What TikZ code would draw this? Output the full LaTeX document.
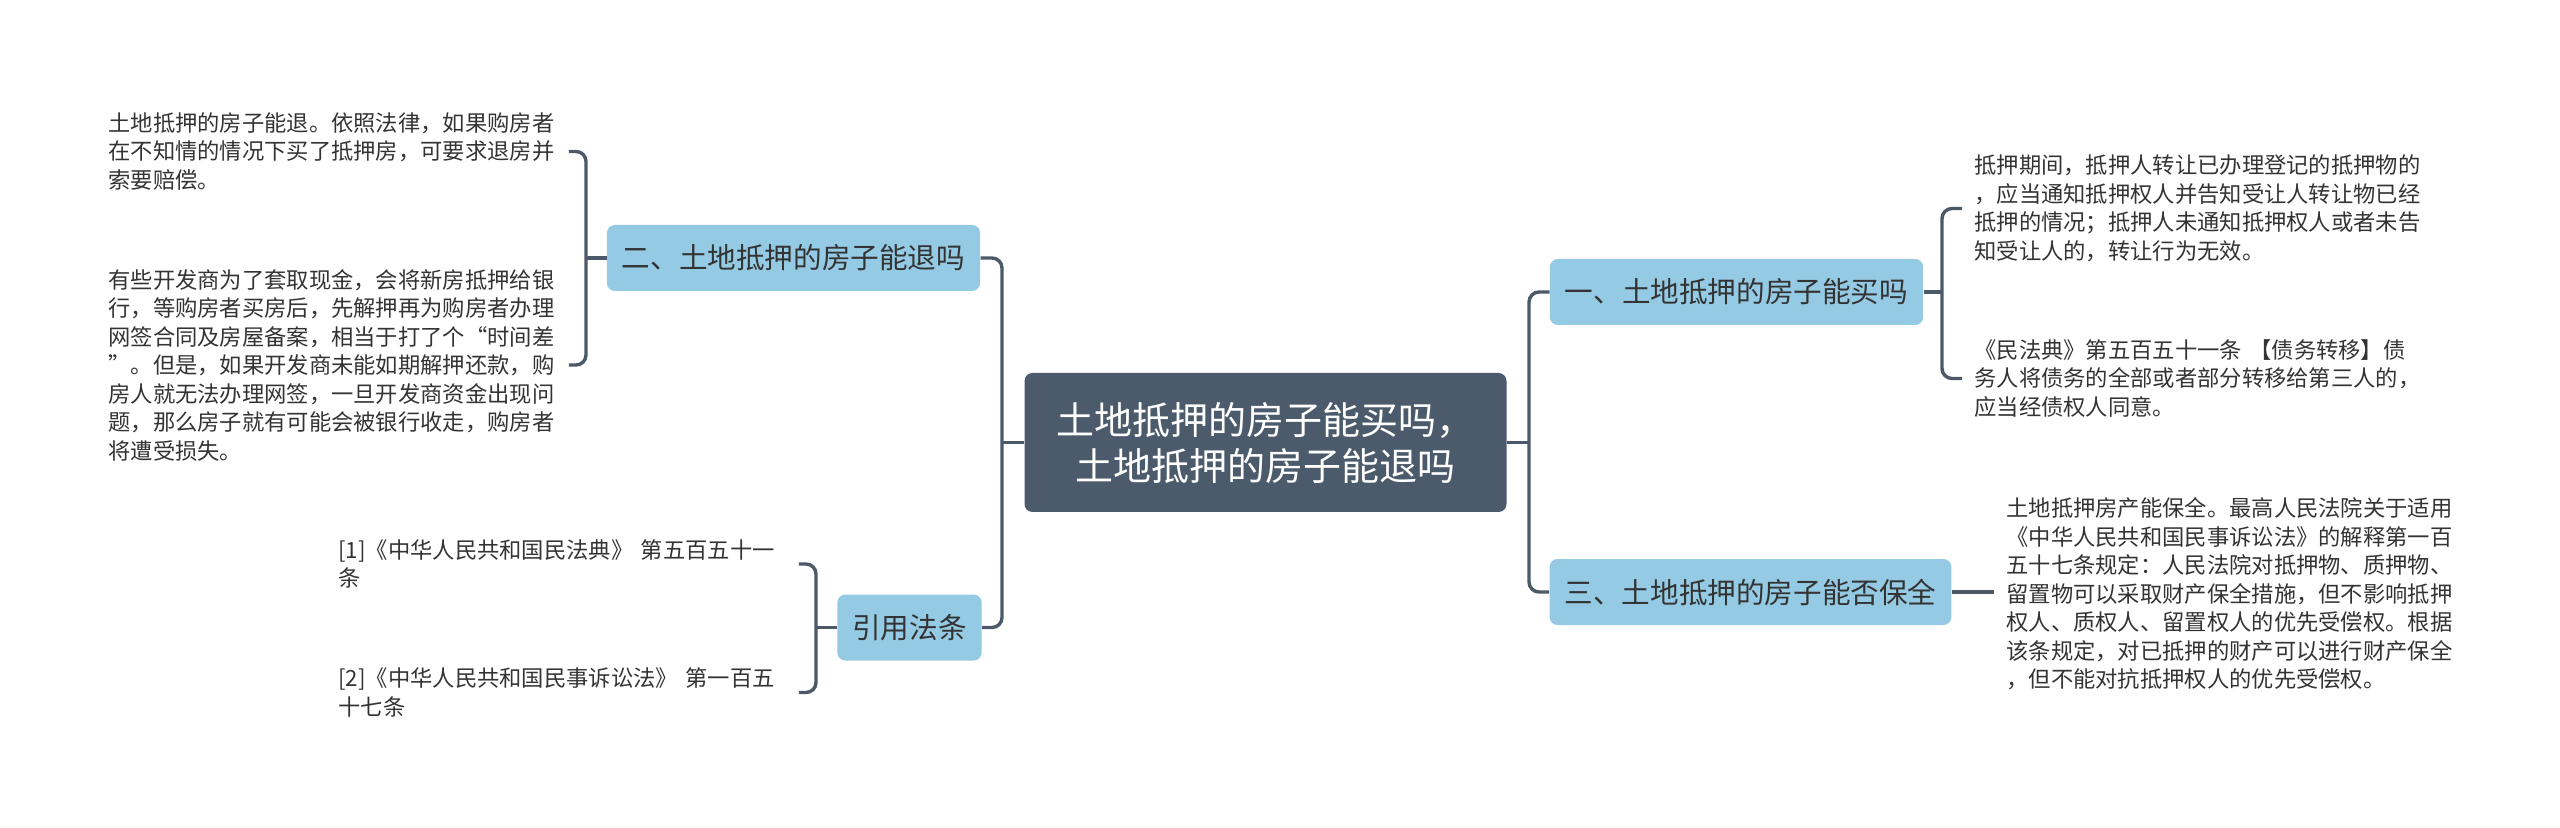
\documentclass[tikz,border=0pt]{standalone}
\usepackage{fontspec}
\setmainfont{Noto Sans CJK SC}
\definecolor{linegray}{HTML}{4B5968}
\definecolor{rootfill}{HTML}{4B5B6B}
\definecolor{boxfill}{HTML}{94CAE3}
\definecolor{txtgray}{HTML}{333333}
\tikzset{
  root/.style={fill=rootfill, rounded corners=4pt, text=white, font=\fontsize{19pt}{23pt}\selectfont, align=center, inner xsep=16pt, minimum height=69.5pt},
  topic/.style={fill=boxfill, rounded corners=4pt, text=txtgray, font=\fontsize{14.3pt}{17pt}\selectfont, inner xsep=7.5pt, minimum height=33pt},
  leaf/.style={text=txtgray, font=\fontsize{11.15pt}{14.25pt}\selectfont, align=left, text width=224pt, inner xsep=6pt, inner ysep=0pt},
  link/.style={draw=linegray, line width=1.7pt, rounded corners=5pt}
}
\begin{document}
\begin{tikzpicture}[x=0.5pt,y=-0.5pt]
        \useasboundingbox (0,0) rectangle (2560,828);
        %nodo centrale
        \node[root] (root) at (1265.5,442.5) {土地抵押的房子能买吗，\\土地抵押的房子能退吗};
        %rami principali
        \node[topic] (buy) at (1736.5,292) {一、土地抵押的房子能买吗};
        \node[topic] (keep) at (1750.5,592) {三、土地抵押的房子能否保全};
        \node[topic] (refund) at (793.5,258) {二、土地抵押的房子能退吗};
        \node[topic] (laws) at (909.5,627.5) {引用法条};
        %testi a destra
        \node[leaf, anchor=west] (buyA) at (1962,208.5) {抵押期间，抵押人转让已办理登记的抵押物的\\，应当通知抵押权人并告知受让人转让物已经\\抵押的情况；抵押人未通知抵押权人或者未告\\知受让人的，转让行为无效。};
        \node[leaf, anchor=west] (buyB) at (1962,378.5) {《民法典》第五百五十一条 【债务转移】债\\务人将债务的全部或者部分转移给第三人的，\\应当经债权人同意。};
        \node[leaf, anchor=west] (keepA) at (1994,594) {土地抵押房产能保全。最高人民法院关于适用\\《中华人民共和国民事诉讼法》的解释第一百\\五十七条规定：人民法院对抵押物、质押物、\\留置物可以采取财产保全措施，但不影响抵押\\权人、质权人、留置权人的优先受偿权。根据\\该条规定，对已抵押的财产可以进行财产保全\\，但不能对抗抵押权人的优先受偿权。};
        %testi a sinistra
        \node[leaf, anchor=west] (refundA) at (96,151.5) {土地抵押的房子能退。依照法律，如果购房者\\在不知情的情况下买了抵押房，可要求退房并\\索要赔偿。};
        \node[leaf, anchor=west] (refundB) at (96,365) {有些开发商为了套取现金，会将新房抵押给银\\行，等购房者买房后，先解押再为购房者办理\\网签合同及房屋备案，相当于打了个“时间差\\”。但是，如果开发商未能如期解押还款，购\\房人就无法办理网签，一旦开发商资金出现问\\题，那么房子就有可能会被银行收走，购房者\\将遭受损失。};
        \node[leaf, anchor=west] (lawA) at (326,564) {[1]《中华人民共和国民法典》 第五百五十一\\条};
        \node[leaf, anchor=west] (lawB) at (326,692.5) {[2]《中华人民共和国民事诉讼法》 第一百五\\十七条};
        %collegamenti
        \draw[link] (root.west) -- (1002,442.5) coordinate (trunkL);
        \draw[link] (refund.east) -| (trunkL) |- (laws.east);
        \draw[link] (root.east) -- (1529,442.5) coordinate (trunkR);
        \draw[link] (buy.west) -| (trunkR) |- (keep.west);
        \draw[link] (buy.east) -- (1942,292) coordinate (trunkB);
        \draw[link] (buyA.west) -| (trunkB) |- (buyB.west);
        \draw[link] (keep.east) -- (keep.east -| keepA.west);
        \draw[link] (refund.west) -- (586,258) coordinate (trunkF);
        \draw[link] (refundA.east) -| (trunkF) |- (refundB.east);
        \draw[link] (laws.west) -- (816,627.5) coordinate (trunkW);
        \draw[link] (lawA.east) -| (trunkW) |- (lawB.east);
\end{tikzpicture}
\end{document}
